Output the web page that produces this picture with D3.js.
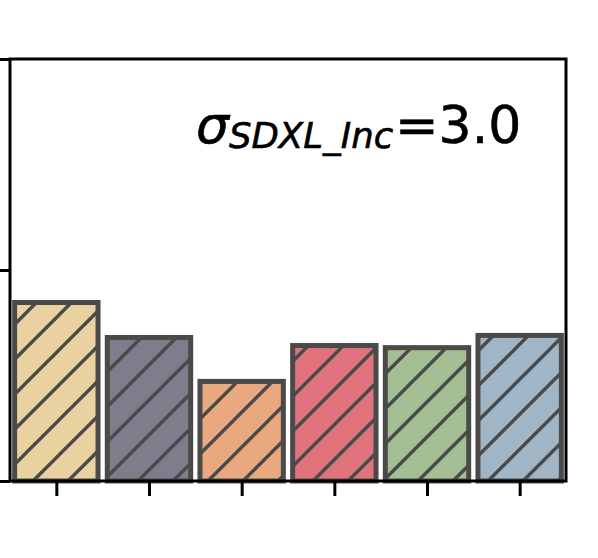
<!DOCTYPE html>
<html>
<head>
<meta charset="utf-8">
<script src="https://cdn.jsdelivr.net/npm/d3@7"></script>
<style>
  html, body { margin: 0; padding: 0; background: #fff; }
  svg { display: block; }
</style>
</head>
<body>
<div id="chart"></div>
<script>
var WIDTH = 598;
var HEIGHT = 558;
var MARGIN = { top: 59, right: 32, bottom: 77, left: 10 };

// data
var categories = [0, 1, 2, 3, 4, 5];
var values = [0.423, 0.340, 0.236, 0.321, 0.316, 0.345];
var colors = ["#EAD1A0", "#7F7D8C", "#E9A87D", "#E0737B", "#A3BE93", "#A0B6C6"];
var yTicks = [0, 0.5, 1.0];

var EDGE = "#4a4a4a";
var BAR_WIDTH = 0.9;

var svg = d3.select("#chart").append("svg")
    .attr("width", WIDTH)
    .attr("height", HEIGHT);

var x = d3.scaleLinear()
    .domain([-0.5, categories.length - 0.5])
    .range([MARGIN.left, WIDTH - MARGIN.right]);
var y = d3.scaleLinear()
    .domain([0, 1.0])
    .range([HEIGHT - MARGIN.bottom, MARGIN.top]);

// "//" hatch, anchored to the page
var defs = svg.append("defs");
var pat = defs.append("pattern")
    .attr("id", "hatch")
    .attr("patternUnits", "userSpaceOnUse")
    .attr("x", -11).attr("y", 0)
    .attr("width", 35).attr("height", 35);
pat.append("path")
    .attr("d", "M0,35 L35,0 M-5,5 L5,-5 M30,40 L40,30")
    .attr("stroke", EDGE)
    .attr("stroke-width", 3.4)
    .attr("fill", "none");

var bars = svg.append("g").selectAll("g")
    .data(categories)
    .enter().append("g");

bars.append("rect")
    .attr("x", function(d) { return x(d - BAR_WIDTH / 2); })
    .attr("y", function(d, i) { return y(values[i]); })
    .attr("width", function(d) { return x(d + BAR_WIDTH / 2) - x(d - BAR_WIDTH / 2); })
    .attr("height", function(d, i) { return y(0) - y(values[i]); })
    .attr("fill", function(d, i) { return colors[i]; });

bars.append("rect")
    .attr("x", function(d) { return x(d - BAR_WIDTH / 2); })
    .attr("y", function(d, i) { return y(values[i]); })
    .attr("width", function(d) { return x(d + BAR_WIDTH / 2) - x(d - BAR_WIDTH / 2); })
    .attr("height", function(d, i) { return y(0) - y(values[i]); })
    .attr("fill", "url(#hatch)")
    .attr("stroke", EDGE)
    .attr("stroke-width", 5);

// axes (labels fall outside the cropped view)
var xAxis = d3.axisBottom(x)
    .tickValues(categories)
    .tickSize(15)
    .tickFormat("");
var yAxis = d3.axisLeft(y)
    .tickValues(yTicks)
    .tickSize(15)
    .tickFormat("");

var gx = svg.append("g")
    .attr("transform", "translate(0," + y(0) + ")")
    .call(xAxis);
var gy = svg.append("g")
    .attr("transform", "translate(" + x(-0.5) + ",0)")
    .call(yAxis);
[gx, gy].forEach(function(g) {
    g.select(".domain").remove();
    g.selectAll(".tick line").attr("stroke", "#000").attr("stroke-width", 3);
});

// frame
svg.append("rect")
    .attr("x", x(-0.5))
    .attr("y", y(1.0))
    .attr("width", x(categories.length - 0.5) - x(-0.5))
    .attr("height", y(0) - y(1.0))
    .attr("fill", "none")
    .attr("stroke", "#000")
    .attr("stroke-width", 3);

// annotation
var label = svg.append("text")
    .attr("font-family", "DejaVu Sans")
    .attr("fill", "#000")
    .attr("stroke", "#000")
    .attr("stroke-width", 0.6);
label.append("tspan")
    .attr("x", 196).attr("y", 143)
    .attr("font-size", 52)
    .attr("font-style", "italic")
    .text("σ");
label.append("tspan")
    .attr("x", 229).attr("y", 148)
    .attr("font-size", 35.5)
    .attr("font-style", "italic")
    .text("SDXL_Inc");
label.append("tspan")
    .attr("x", 395).attr("y", 143)
    .attr("font-size", 52)
    .text("=3.0");
</script>
</body>
</html>
